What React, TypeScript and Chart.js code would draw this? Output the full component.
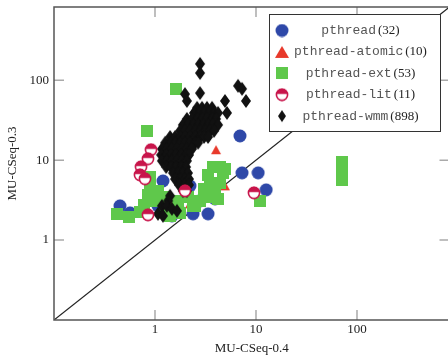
import React, { useEffect, useRef } from 'react';
import { Chart, registerables } from 'chart.js';

Chart.register(...registerables);

const xTickValues = [1, 10, 100];
const yTickValues = [1, 10, 100];
const axisMin = 0.1;
const axisMax = 824;

const xTitle = 'MU-CSeq-0.4';
const yTitle = 'MU-CSeq-0.3';

const seriesNames = ['pthread', 'pthread-atomic', 'pthread-ext', 'pthread-lit', 'pthread-wmm'];
const seriesCounts = ['(32)', '(10)', '(53)', '(11)', '(898)'];
const seriesColors = ['#2e48a8', '#e8392b', '#5fc84b', '#c8154b', '#111111'];

const pthreadPts: [number, number][] = [
  [6.94, 20.1], [7.27, 6.94], [10.5, 6.94], [12.6, 4.25], [1.2, 5.5], [0.45, 2.68],
  [0.566, 2.19], [2.38, 2.13], [3.35, 2.13], [3.93, 3.28], [3.75, 4.77], [1.69, 2.46],
  [1.47, 2.01], [1.07, 2.68], [2.79, 3.1], [2.22, 4.77],
];

const atomicPts: [number, number][] = [
  [4.02, 13.5], [3.5, 6.0], [3.27, 3.79], [2.49, 2.61], [1.07, 3.48], [2.22, 2.84],
  [4.93, 4.77], [1.41, 3.1],
];

const extPts: [number, number][] = [
  [1.61, 78], [0.833, 23.2], [0.42, 2.13], [0.553, 1.95], [0.71, 2.26], [0.778, 2.76],
  [0.852, 3.68], [0.892, 4.91], [0.892, 6.18], [1.2, 3.48], [1.256, 2.46], [1.41, 2.01],
  [1.69, 3.1], [1.77, 2.19], [2.12, 3.48], [2.38, 2.68], [2.79, 3.1], [3.2, 3.48],
  [3.35, 6.55], [3.75, 8.25], [4.4, 8.25], [4.93, 7.79], [3.5, 5.2], [4.4, 5.2],
  [3.93, 4.13], [4.21, 3.28], [3.06, 4.38], [10.9, 3.1], [71, 9.5], [71, 7.8], [71, 5.7],
  [2.49, 2.68], [1.07, 4.13], [1.0, 3.1], [4.71, 6.94],
];

const litPts: [number, number][] = [
  [0.913, 13.5], [0.852, 10.4], [0.727, 8.25], [0.71, 6.55], [0.796, 5.84],
  [1.98, 4.13], [0.852, 2.07], [9.55, 3.9],
];

const wmmPts: [number, number][] = [
  [2.79, 160], [2.79, 123], [2.79, 69], [1.98, 67], [2.07, 55], [6.64, 85], [7.27, 78],
  [7.96, 55], [4.93, 55], [5.16, 39],
  [2.61, 45.1], [2.92, 45.1], [3.27, 45.1], [3.67, 45.1],
  [2.43, 39], [2.73, 39], [3.06, 39], [3.43, 39], [3.84, 39], [4.21, 39],
  [2.07, 32.8], [2.32, 32.8], [2.61, 32.8], [2.92, 32.8], [3.27, 32.8], [3.67, 32.8], [4.02, 32.8],
  [1.89, 27.6], [2.12, 27.6], [2.38, 27.6], [2.67, 27.6], [2.99, 27.6], [3.35, 27.6], [3.75, 27.6], [4.21, 27.6],
  [1.77, 23.2], [1.98, 23.2], [2.22, 23.2], [2.49, 23.2], [2.79, 23.2], [3.13, 23.2], [3.5, 23.2], [3.84, 23.2],
  [1.41, 19.5], [1.58, 19.5], [1.77, 19.5], [1.98, 19.5], [2.22, 19.5], [2.49, 19.5], [2.79, 19.5], [3.06, 19.5], [3.35, 19.5],
  [1.26, 16.5], [1.41, 16.5], [1.58, 16.5], [1.77, 16.5], [1.98, 16.5], [2.22, 16.5], [2.49, 16.5], [2.67, 16.5],
  [1.17, 13.8], [1.31, 13.8], [1.47, 13.8], [1.65, 13.8], [1.85, 13.8], [2.07, 13.8], [2.32, 13.8],
  [1.15, 11.6], [1.29, 11.6], [1.44, 11.6], [1.61, 11.6], [1.81, 11.6], [2.03, 11.6], [2.17, 11.6],
  [1.17, 9.8], [1.31, 9.8], [1.47, 9.8], [1.65, 9.8], [1.85, 9.8], [2.07, 9.8],
  [1.29, 8.2], [1.44, 8.2], [1.61, 8.2], [1.81, 8.2], [2.03, 8.2],
  [1.51, 6.9], [1.69, 6.9], [1.89, 6.9], [2.12, 6.9],
  [1.58, 5.8], [1.77, 5.8], [1.98, 5.8], [2.17, 5.8],
  [1.73, 4.9], [1.94, 4.9], [2.17, 4.9],
  [1.89, 4.1], [2.07, 4.1],
  [1.41, 3.58], [1.35, 3.1], [1.17, 2.68], [1.31, 2.68], [1.47, 2.46], [1.65, 2.32], [1.07, 2.13], [1.2, 2.01],
];

const diagonal: [number, number][] = [[axisMin, axisMin], [axisMax, axisMax]];

function makeMarker(kind: string, color: string, big = false): HTMLCanvasElement {
  const c = document.createElement('canvas');
  const g = c.getContext('2d') as CanvasRenderingContext2D;
  if (kind === 'circle') {
    c.width = 14; c.height = 14;
    g.fillStyle = color;
    g.beginPath(); g.arc(7, 7, 6.5, 0, Math.PI * 2); g.fill();
  } else if (kind === 'triangle') {
    if (big) {
      c.width = 16; c.height = 14;
      g.fillStyle = color;
      g.beginPath(); g.moveTo(8, 1); g.lineTo(15, 13); g.lineTo(1, 13); g.closePath(); g.fill();
    } else {
      c.width = 12; c.height = 11;
      g.fillStyle = color;
      g.beginPath(); g.moveTo(6, 1); g.lineTo(11, 10); g.lineTo(1, 10); g.closePath(); g.fill();
    }
  } else if (kind === 'square') {
    c.width = 12; c.height = 12;
    g.fillStyle = color;
    g.fillRect(0, 0, 12, 12);
  } else if (kind === 'half') {
    c.width = 14; c.height = 14;
    g.fillStyle = '#ffffff';
    g.beginPath(); g.arc(7, 7, 5.6, 0, Math.PI * 2); g.fill();
    g.fillStyle = color;
    g.beginPath(); g.arc(7, 6.3, 5.6, Math.PI, Math.PI * 2); g.closePath(); g.fill();
    g.strokeStyle = color; g.lineWidth = 1.6;
    g.beginPath(); g.arc(7, 7, 5.6, 0, Math.PI * 2); g.stroke();
  } else {
    if (big) {
      c.width = 10; c.height = 14;
      g.fillStyle = color;
      g.beginPath(); g.moveTo(5, 1); g.lineTo(9, 7); g.lineTo(5, 13); g.lineTo(1, 7); g.closePath(); g.fill();
    } else {
      c.width = 12; c.height = 16;
      g.fillStyle = color;
      g.beginPath(); g.moveTo(6, 1); g.lineTo(11, 8); g.lineTo(6, 15); g.lineTo(1, 8); g.closePath(); g.fill();
    }
  }
  return c;
}

const markerKinds = ['circle', 'triangle', 'square', 'half', 'diamond'];

export default function App() {
  const ref = useRef<HTMLCanvasElement | null>(null);

  useEffect(() => {
    if (!ref.current) return;
    const markers = markerKinds.map((k, i) => makeMarker(k, seriesColors[i]));
    const legendMarkers = markerKinds.map((k, i) => makeMarker(k, seriesColors[i], true));
    const seriesPts = [pthreadPts, atomicPts, extPts, litPts, wmmPts];
    const drawOrder = [5, 4, 3, 1, 2];
    const serif = '"Liberation Serif", "Times New Roman", serif';
    const mono = '"Liberation Mono", "Courier New", monospace';

    const framePlugin = {
      id: 'frameAndLegend',
      afterDatasetsDraw(chart: any) {
        const { ctx, chartArea: a, scales } = chart;
        ctx.save();
        ctx.strokeStyle = '#aaaaaa';
        ctx.lineWidth = 1.5;
        ctx.beginPath();
        xTickValues.forEach((v) => {
          const p = scales.x.getPixelForValue(v);
          ctx.moveTo(p, a.bottom); ctx.lineTo(p, a.bottom - 10);
          ctx.moveTo(p, a.top); ctx.lineTo(p, a.top + 10);
        });
        yTickValues.forEach((v) => {
          const p = scales.y.getPixelForValue(v);
          ctx.moveTo(a.left, p); ctx.lineTo(a.left + 10, p);
          ctx.moveTo(a.right, p); ctx.lineTo(a.right - 10, p);
        });
        ctx.stroke();
        ctx.strokeStyle = '#555555';
        ctx.lineWidth = 1.5;
        ctx.strokeRect(a.left, a.top, a.right - a.left, a.bottom - a.top);

        // legend
        const lx = a.left + 215.5;
        const ly = a.top + 7.5;
        const lw = 171;
        const lh = 117;
        ctx.fillStyle = '#ffffff';
        ctx.fillRect(lx, ly, lw, lh);
        ctx.strokeStyle = '#333333';
        ctx.lineWidth = 1;
        ctx.strokeRect(lx, ly, lw, lh);
        ctx.textBaseline = 'middle';
        ctx.textAlign = 'left';
        seriesNames.forEach((name, i) => {
          const cy = ly + 16 + i * 21.4;
          const m = legendMarkers[i];
          ctx.drawImage(m, lx + 12.5 - m.width / 2, cy - m.height / 2);
          ctx.font = '13px ' + mono;
          const w1 = ctx.measureText(name).width;
          ctx.font = '13px ' + serif;
          const w2 = ctx.measureText(seriesCounts[i]).width;
          const gap = 2;
          const cx = lx + 91;
          const sx = cx - (w1 + gap + w2) / 2;
          ctx.font = '13px ' + mono;
          ctx.fillStyle = '#555555';
          ctx.fillText(name, sx, cy);
          ctx.font = '13px ' + serif;
          ctx.fillStyle = '#222222';
          ctx.fillText(seriesCounts[i], sx + w1 + gap, cy);
        });
        ctx.restore();
      },
    };

    const datasets: any[] = [
      {
        label: 'diag',
        data: diagonal.map(([x, y]) => ({ x, y })),
        showLine: true,
        borderColor: '#222222',
        borderWidth: 1.2,
        pointRadius: 0,
        order: 10,
      },
      ...seriesNames.map((name, i) => ({
        label: name,
        data: seriesPts[i].map(([x, y]) => ({ x, y })),
        pointStyle: markers[i],
        pointRadius: 6,
        backgroundColor: seriesColors[i],
        borderColor: seriesColors[i],
        order: drawOrder[i],
      })),
    ];

    const chart = new Chart(ref.current, {
      type: 'scatter',
      data: { datasets },
      options: {
        animation: false,
        responsive: false,
        devicePixelRatio: 1,
        layout: { padding: { top: 6, right: 20.5, left: 0, bottom: 0 } },
        plugins: { legend: { display: false }, tooltip: { enabled: false } },
        scales: {
          x: {
            type: 'logarithmic',
            position: 'bottom',
            min: axisMin,
            max: axisMax,
            grid: { display: false, drawTicks: false },
            border: { display: false },
            ticks: {
              autoSkip: false,
              maxRotation: 0,
              padding: 2,
              color: '#222222',
              font: { family: serif, size: 13 },
              callback: (v: any) => String(v),
            },
            title: {
              display: true,
              text: xTitle,
              color: '#222222',
              font: { family: serif, size: 13 },
              padding: { top: 0, bottom: 0 },
            },
            afterBuildTicks: (s: any) => { s.ticks = xTickValues.map((v) => ({ value: v })); },
            afterFit: (s: any) => { s.height = 36; s.paddingLeft = 0; s.paddingRight = 0; },
          },
          y: {
            type: 'logarithmic',
            position: 'left',
            min: axisMin,
            max: axisMax,
            grid: { display: false, drawTicks: false },
            border: { display: false },
            ticks: {
              autoSkip: false,
              padding: 5,
              color: '#222222',
              font: { family: serif, size: 13 },
              callback: (v: any) => String(v),
            },
            title: {
              display: true,
              text: yTitle,
              color: '#222222',
              font: { family: serif, size: 13 },
              padding: { top: 5, bottom: 0 },
            },
            afterBuildTicks: (s: any) => { s.ticks = yTickValues.map((v) => ({ value: v })); },
            afterFit: (s: any) => { s.width = 54; s.paddingTop = 0; s.paddingBottom = 0; },
          },
        },
      } as any,
      plugins: [framePlugin],
    });
    return () => chart.destroy();
  }, []);

  return (
    <div style={{ position: 'fixed', left: 0, top: 0, width: 448, height: 356, overflow: 'hidden', background: '#fff' }}>
      <canvas ref={ref} width={470} height={356} style={{ display: 'block', width: 470, height: 356 }} />
    </div>
  );
}
